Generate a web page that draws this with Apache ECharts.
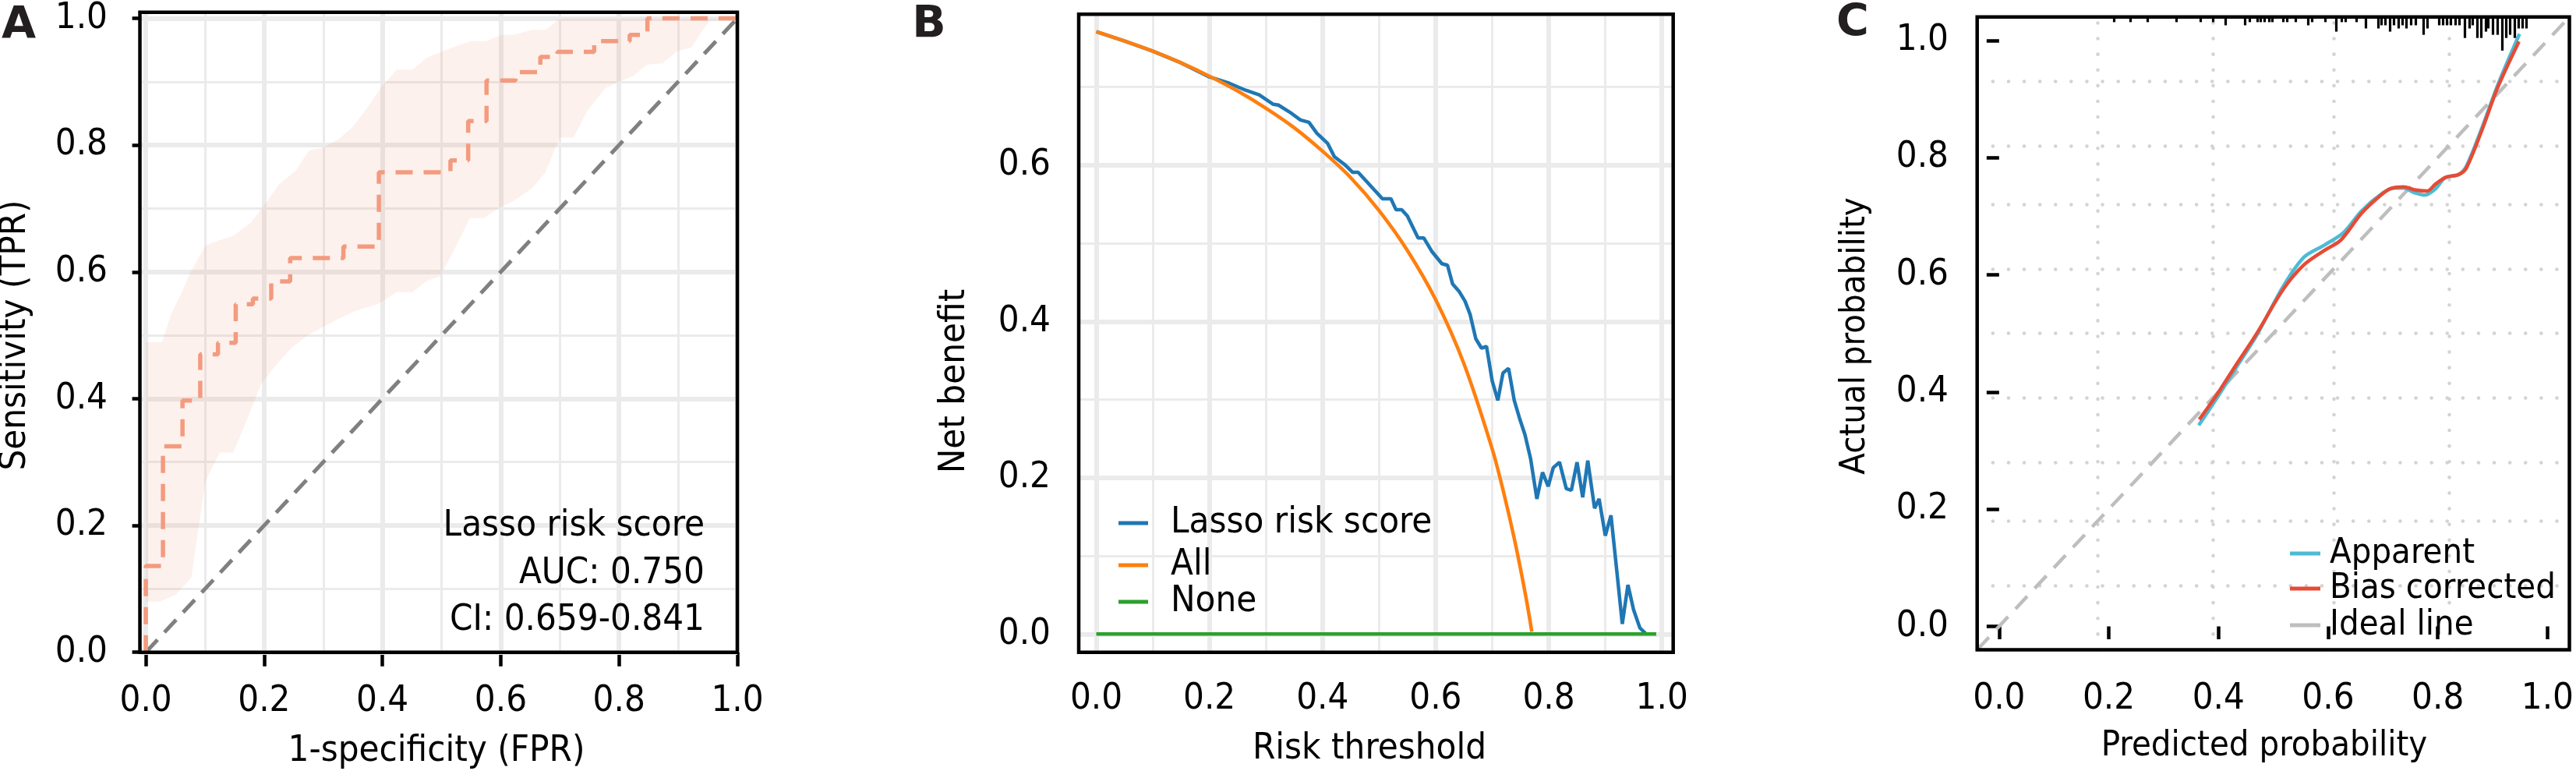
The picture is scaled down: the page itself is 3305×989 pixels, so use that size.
<!DOCTYPE html>
<html>
<head>
<meta charset="utf-8">
<script src="https://cdn.jsdelivr.net/npm/echarts@6/dist/echarts.min.js"></script>
<style>
html,body{margin:0;padding:0;background:#fff;}
#chart{width:3305px;height:989px;}
</style>
</head>
<body>
<div id="chart"></div>
<script>
// ---------------- DATA ----------------
// Panel A: ROC curve (fpr, tpr) vertices
const rocPoints = [[0,0],[0,0.136],[0.029,0.136],[0.029,0.325],[0.062,0.325],[0.062,0.397],[0.092,0.397],[0.092,0.470],[0.122,0.470],[0.122,0.488],[0.152,0.488],[0.152,0.549],[0.181,0.549],[0.181,0.558],[0.212,0.558],[0.212,0.585],[0.244,0.585],[0.244,0.622],[0.334,0.622],[0.334,0.640],[0.394,0.640],[0.394,0.757],[0.515,0.757],[0.515,0.776],[0.545,0.776],[0.545,0.838],[0.576,0.838],[0.576,0.902],[0.625,0.902],[0.625,0.915],[0.667,0.915],[0.667,0.939],[0.696,0.939],[0.696,0.947],[0.758,0.947],[0.758,0.964],[0.818,0.964],[0.818,0.974],[0.848,0.974],[0.848,1.0],[1.0,1.0]];
// Panel A: confidence band, upper and lower bounds
const ciUpper = [[0,0.489],[0.027,0.489],[0.044,0.536],[0.061,0.568],[0.074,0.597],[0.101,0.642],[0.125,0.650],[0.148,0.657],[0.179,0.679],[0.202,0.708],[0.226,0.739],[0.253,0.759],[0.276,0.792],[0.300,0.796],[0.327,0.810],[0.350,0.829],[0.373,0.857],[0.397,0.890],[0.424,0.919],[0.451,0.919],[0.475,0.938],[0.501,0.948],[0.549,0.964],[0.575,0.964],[0.602,0.974],[0.622,0.974],[0.653,0.982],[0.676,0.982],[0.700,1.0],[1.0,1.0]];
const ciLower = [[0,0.080],[0.024,0.080],[0.051,0.091],[0.077,0.118],[0.091,0.208],[0.101,0.270],[0.125,0.315],[0.148,0.315],[0.172,0.369],[0.195,0.423],[0.219,0.452],[0.246,0.480],[0.272,0.499],[0.299,0.513],[0.326,0.526],[0.353,0.538],[0.394,0.550],[0.424,0.568],[0.451,0.568],[0.475,0.586],[0.498,0.593],[0.525,0.642],[0.548,0.685],[0.572,0.685],[0.595,0.700],[0.622,0.712],[0.653,0.732],[0.676,0.757],[0.690,0.790],[0.700,0.812],[0.723,0.812],[0.747,0.855],[0.777,0.890],[0.800,0.900],[0.824,0.909],[0.848,0.927],[0.874,0.929],[0.898,0.948],[0.922,0.954],[0.952,0.995],[1.0,1.0]];
const diagA = [[0,0],[1,1]];
const aText = ['Lasso risk score','AUC: 0.750','CI: 0.659-0.841'];
const ticksA = [0,0.2,0.4,0.6,0.8,1.0];
const majorGridA = [0,0.2,0.4,0.6,0.8,1.0];
const minorGridA = [0.1,0.3,0.5,0.7,0.9];

// Panel B: decision curve
const bLasso = [[0,0.771],[0.05,0.759],[0.10,0.746],[0.15,0.731],[0.20,0.713],[0.235,0.705],[0.264,0.696],[0.288,0.690],[0.313,0.678],[0.322,0.677],[0.342,0.668],[0.361,0.658],[0.376,0.655],[0.390,0.641],[0.409,0.628],[0.421,0.611],[0.439,0.601],[0.453,0.591],[0.463,0.591],[0.482,0.576],[0.506,0.557],[0.521,0.557],[0.530,0.543],[0.540,0.543],[0.550,0.535],[0.569,0.507],[0.579,0.507],[0.593,0.490],[0.611,0.474],[0.621,0.472],[0.630,0.448],[0.642,0.438],[0.652,0.426],[0.661,0.409],[0.671,0.378],[0.681,0.366],[0.690,0.368],[0.700,0.324],[0.710,0.299],[0.719,0.334],[0.729,0.340],[0.739,0.299],[0.748,0.277],[0.758,0.255],[0.768,0.224],[0.779,0.173],[0.789,0.207],[0.799,0.189],[0.808,0.213],[0.819,0.220],[0.831,0.186],[0.840,0.184],[0.850,0.220],[0.860,0.175],[0.869,0.222],[0.881,0.161],[0.889,0.173],[0.900,0.126],[0.910,0.152],[0.921,0.076],[0.930,0.013],[0.940,0.063],[0.950,0.031],[0.961,0.008],[0.971,0.001]];
const bAll = [[0,0.771],[0.05,0.759],[0.10,0.746],[0.15,0.731],[0.20,0.714],[0.25,0.695],[0.30,0.673],[0.35,0.648],[0.40,0.618],[0.45,0.584],[0.50,0.542],[0.55,0.491],[0.60,0.428],[0.65,0.346],[0.70,0.237],[0.72,0.182],[0.74,0.119],[0.76,0.046],[0.77,0.003]];
const bNone = [[0,0],[0.99,0]];
const bNames = ['Lasso risk score','All','None'];
const ticksBx = [0,0.2,0.4,0.6,0.8,1.0];
const ticksBy = [0,0.2,0.4,0.6];
const majorGridBy = [0,0.2,0.4,0.6];
const minorGridBy = [0.1,0.3,0.5,0.7];

// Panel C: calibration curve
const cApparent = [[0.364,0.343],[0.394,0.385],[0.432,0.441],[0.470,0.497],[0.518,0.580],[0.556,0.630],[0.594,0.651],[0.628,0.672],[0.661,0.709],[0.699,0.739],[0.720,0.748],[0.738,0.748],[0.757,0.740],[0.776,0.736],[0.795,0.746],[0.814,0.766],[0.838,0.771],[0.852,0.785],[0.881,0.852],[0.909,0.923],[0.949,1.011]];
const cBias = [[0.365,0.353],[0.394,0.391],[0.432,0.446],[0.470,0.500],[0.518,0.575],[0.556,0.617],[0.594,0.642],[0.623,0.659],[0.661,0.705],[0.695,0.735],[0.714,0.747],[0.738,0.750],[0.757,0.745],[0.781,0.743],[0.795,0.754],[0.814,0.766],[0.838,0.771],[0.852,0.782],[0.881,0.848],[0.909,0.919],[0.948,0.998]];
const cIdeal = [[-0.04,-0.04],[1.04,1.04]];
const cNames = ['Apparent','Bias corrected','Ideal line'];
const ticksC = [0,0.2,0.4,0.6,0.8,1.0];
const cGridX = [0.176,0.392,0.608,0.824];
const cGridY = [0.068,0.176,0.284,0.392,0.500,0.608,0.716,0.824,0.932];
// rug of predicted probabilities (x) and relative frequency (count)
const rugX = [0.209,0.239,0.270,0.323,0.368,0.390,0.413,0.449,0.457,0.471,0.477,0.484,0.492,0.498,0.518,0.525,0.540,0.563,0.570,0.594,0.615,0.624,0.631,0.652,0.668,0.691,0.697,0.704,0.713,0.720,0.728,0.735,0.743,0.751,0.759,0.774,0.781,0.802,0.809,0.817,0.824,0.832,0.839,0.849,0.857,0.864,0.872,0.879,0.887,0.892,0.901,0.909,0.917,0.925,0.931,0.940,0.947,0.955,0.962];
const rugN = [1,1,1,1,1,1,2,2,1,1,1,1,1,1,1,1,1,2,1,1,4,1,1,1,3,3,2,2,4,2,3,2,3,2,2,5,3,2,2,2,2,2,2,6,3,2,6,6,4,3,5,5,10,6,5,6,3,3,3];

// ---------------- STYLE ----------------
const FONT = "'DejaVu Sans Condensed', 'DejaVu Sans', sans-serif";
const FS = 47;
const GRIDC = '#EBEBEB';
const COL = {roc:'#F39B7F', diag:'#808080', lasso:'#1F77B4', all:'#FF7F0E', none:'#2CA02C', app:'#4DBBD5', bias:'#E64B35', ideal:'#BEBEBE'};

function fmt(v){ return (Math.round(v*10)/10).toFixed(1); }

function axis(gridIndex, min, max, ticks, margin, tickLen, extraLabel){
  return {
    type:'value', gridIndex, min, max,
    axisLine:{show:false},
    axisTick:{show:true, customValues:ticks, length:tickLen, lineStyle:{color:'#000', width:4.5}},
    axisLabel:Object.assign({show:true, customValues:ticks, margin, fontSize:FS, fontFamily:FONT, color:'#000', formatter:fmt}, extraLabel||{}),
    splitLine:{show:false}, minorTick:{show:false}, minorSplitLine:{show:false}
  };
}

function gridLines(xi, major, minor, majorY, minorY, style){
  const d = [];
  major.forEach(v=>d.push({xAxis:v, lineStyle:style.major}));
  minor.forEach(v=>d.push({xAxis:v, lineStyle:style.minor}));
  majorY.forEach(v=>d.push({yAxis:v, lineStyle:style.major}));
  minorY.forEach(v=>d.push({yAxis:v, lineStyle:style.minor}));
  return {
    type:'line', xAxisIndex:xi, yAxisIndex:xi, data:[], z:1, silent:true, animation:false,
    markLine:{z:1, silent:true, symbol:['none','none'], label:{show:false}, animation:false,
      emphasis:{disabled:true}, data:d}
  };
}

const gMajor = {color:GRIDC, width:6, type:'solid'};
const gMinor = {color:GRIDC, width:3, type:'solid'};
const cDot = {color:'#D3D3D3', width:4.5, type:[0.1,20], cap:'round'};

function txt(x, y, text, fs, align, extra){
  return Object.assign({type:'text', z:20, x, y,
    style:{text, fontSize:fs, fontFamily:FONT, fill:'#000', textAlign:align, textVerticalAlign:'middle'}}, extra||{});
}

function legendItems(x0, x1, xt, ys, names, cols, fs, widths){
  const out = [];
  names.forEach((n,i)=>{
    out.push({type:'line', z:20, shape:{x1:x0, y1:ys[i], x2:x1, y2:ys[i]}, style:{stroke:cols[i], lineWidth:widths[i]}});
    out.push(txt(xt, ys[i], n, fs, 'left'));
  });
  return out;
}

function letter(x, y, t){
  return {type:'text', z:20, x, y, style:{text:t, fontSize:57, fontWeight:'bold', fontFamily:"'DejaVu Sans', sans-serif", fill:'#231F20', textAlign:'center', textVerticalAlign:'middle'}};
}

const chart = echarts.init(document.getElementById('chart'), null, {renderer:'canvas'});

const option = {
  animation:false,
  backgroundColor:'#fff',
  textStyle:{fontFamily:FONT},
  grid:[
    {left:179.5, top:14, width:766.5, height:822.7, show:true, borderColor:'#000', borderWidth:4.5, backgroundColor:'transparent', z:10},
    {left:1384, top:18.3, width:762.7, height:818.4, show:true, borderColor:'#000', borderWidth:4.5, backgroundColor:'transparent', z:10},
    {left:2536.7, top:21.7, width:760, height:811.8, show:true, borderColor:'#000', borderWidth:4.5, backgroundColor:'transparent', z:10}
  ],
  xAxis:[
    axis(0, -0.01, 1.0, ticksA, 40, 18),
    axis(1, -0.031, 1.02, ticksBx, 37, 18),
    axis(2, -0.04, 1.04, ticksC, 40, 16.5)
  ],
  yAxis:[
    axis(0, 0, 1.0094, ticksA, 41.5, 17.5),
    axis(1, -0.0233, 0.7932, ticksBy, 36, 17.5),
    axis(2, -0.04, 1.04, ticksC, 36.7, 16, {padding:[10,0,0,0]})
  ],
  series:[
    // ---- Panel A ----
    gridLines(0, majorGridA, minorGridA, majorGridA, minorGridA, {major:gMajor, minor:gMinor}),
    {type:'custom', name:'CI band', xAxisIndex:0, yAxisIndex:0, z:2, silent:true, data:[[0,0]],
     renderItem:function(params, api){
       const pts = ciUpper.map(p=>api.coord(p)).concat(ciLower.slice().reverse().map(p=>api.coord(p)));
       return {type:'polygon', shape:{points:pts}, style:{fill:'rgba(243,155,127,0.14)'}};
     }},
    {type:'line', name:'diag', xAxisIndex:0, yAxisIndex:0, data:diagA, z:3, showSymbol:false, symbol:'none', silent:true,
     lineStyle:{color:COL.diag, width:5, type:[22,13]}},
    {type:'line', name:'ROC', xAxisIndex:0, yAxisIndex:0, data:rocPoints, z:4, showSymbol:false, symbol:'none', silent:true,
     lineStyle:{color:COL.roc, width:5.5, type:[22,14]}},
    // ---- Panel B ----
    gridLines(1, majorGridA, minorGridA, majorGridBy, minorGridBy, {major:gMajor, minor:gMinor}),
    {type:'line', name:bNames[0], xAxisIndex:1, yAxisIndex:1, data:bLasso, z:3, showSymbol:false, symbol:'none', silent:true,
     lineStyle:{color:COL.lasso, width:4.5}},
    {type:'line', name:bNames[1], xAxisIndex:1, yAxisIndex:1, data:bAll, z:4, showSymbol:false, symbol:'none', silent:true, smooth:0.3,
     lineStyle:{color:COL.all, width:4.5}},
    {type:'line', name:bNames[2], xAxisIndex:1, yAxisIndex:1, data:bNone, z:5, showSymbol:false, symbol:'none', silent:true,
     lineStyle:{color:COL.none, width:4.5}},
    // ---- Panel C ----
    gridLines(2, cGridX, [], cGridY, [], {major:cDot, minor:cDot}),
    {type:'line', name:cNames[2], xAxisIndex:2, yAxisIndex:2, data:cIdeal, z:3, showSymbol:false, symbol:'none', silent:true,
     lineStyle:{color:COL.ideal, width:4.5, type:[22,14]}},
    {type:'line', name:cNames[0], xAxisIndex:2, yAxisIndex:2, data:cApparent, z:4, showSymbol:false, symbol:'none', silent:true, smooth:0.3,
     lineStyle:{color:COL.app, width:4.5}},
    {type:'line', name:cNames[1], xAxisIndex:2, yAxisIndex:2, data:cBias, z:5, showSymbol:false, symbol:'none', silent:true, smooth:0.3,
     lineStyle:{color:COL.bias, width:4.5}},
    {type:'lines', name:'rug', coordinateSystem:'cartesian2d', xAxisIndex:2, yAxisIndex:2, z:6, silent:true,
     lineStyle:{color:'#000', width:3.2, opacity:1},
     data: rugX.map((x,i)=>({coords:[[x,1.04],[x,1.04-(0.0035+0.0054*rugN[i])]]}))}
  ],
  graphic:[
    letter(24, 34, 'A'), letter(1192, 33, 'B'), letter(2377, 31, 'C'),
    // panel A annotation
    txt(904, 675, aText[0], FS, 'right'),
    txt(904, 736, aText[1], FS, 'right'),
    txt(904, 796, aText[2], FS, 'right'),
    // axis titles
    txt(560, 964, '1-specificity (FPR)', FS, 'center'),
    txt(19.5, 430, 'Sensitivity (TPR)', FS, 'center', {rotation:Math.PI/2}),
    txt(1757, 961, 'Risk threshold', FS, 'center'),
    txt(1225, 489, 'Net benefit', FS, 'center', {rotation:Math.PI/2}),
    txt(2905, 957, 'Predicted probability', 45, 'center'),
    txt(2380, 431, 'Actual probability', 45, 'center', {rotation:Math.PI/2})
  ]
    .concat(legendItems(1435, 1473, 1502, [671, 725, 772], bNames, [COL.lasso, COL.all, COL.none], FS, [5,5,5]))
    .concat(legendItems(2938, 2977, 2989, [710, 755, 802], cNames, [COL.app, COL.bias, COL.ideal], 45, [5,5,5]))
};
chart.setOption(option);
</script>
</body>
</html>
